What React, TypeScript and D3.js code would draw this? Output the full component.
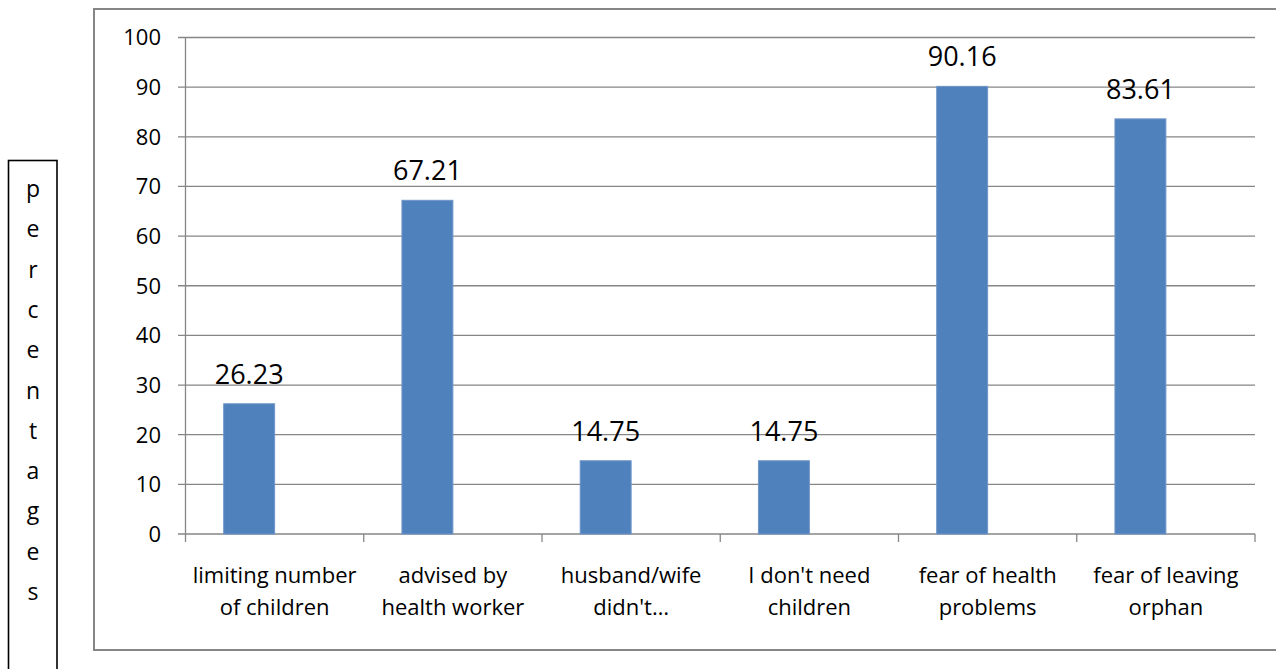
import React from "react";
import * as d3 from "d3";

// Reasons given, share of respondents (%)
const categories: string[][] = [
  ["limiting number", "of children"],
  ["advised by", "health worker"],
  ["husband/wife", "didn't…"],
  ["I don't need", "children"],
  ["fear of health", "problems"],
  ["fear of leaving", "orphan"],
];
const values: number[] = [26.23, 67.21, 14.75, 14.75, 90.16, 83.61];
const yTicks: number[] = [0, 10, 20, 30, 40, 50, 60, 70, 80, 90, 100];
const axisTitle = "percentages";

const W = 1276;
const H = 669;
const FONT = "'Open Sans', 'Noto Sans', sans-serif";
const GRID = "#868686";
const BAR = "#4F81BD";

export default function App() {
  const plotLeft = 185.5;
  const plotRight = 1255;
  const y = d3.scaleLinear().domain([0, 100]).range([534, 37.5]);
  const keys = categories.map((_, i) => String(i));
  const x = d3.scaleBand<string>().domain(keys).range([plotLeft, plotRight]).padding(0);
  // two slots per category (second one unused), 150% gap between clusters
  const slot = d3
    .scaleBand<number>()
    .domain([0, 1])
    .range([0, x.bandwidth()])
    .paddingInner(0)
    .paddingOuter(0.75);

  const y0 = y(0);
  const boundaries = [...keys.map((k) => x(k) as number), plotRight];

  return (
    <svg
      width={W}
      height={H}
      style={{ position: "absolute", left: 0, top: 0, background: "#fff" }}
      fontFamily={FONT}
    >
      {/* chart frame */}
      <rect x={94} y={9} width={1300} height={641} fill="none" stroke={GRID} strokeWidth={2} />

      {/* vertical axis title box */}
      <rect x={8.5} y={160.5} width={48.5} height={560} fill="none" stroke="#000" strokeWidth={1.6} />
      <text fontSize={23} textAnchor="middle" fill="#000">
        {axisTitle.split("").map((ch, i) => (
          <tspan key={i} x={33} y={197 + i * 40.3}>
            {ch}
          </tspan>
        ))}
      </text>

      {/* gridlines and y ticks */}
      {yTicks.map((t) => (
        <g key={t}>
          <line
            x1={178}
            x2={t === 0 ? plotRight : plotRight}
            y1={y(t)}
            y2={y(t)}
            stroke={GRID}
            strokeWidth={1.3}
          />
          <text x={161} y={y(t) + 7.9} fontSize={22} textAnchor="end" fill="#000">
            {t}
          </text>
        </g>
      ))}

      {/* y axis */}
      <line x1={plotLeft} x2={plotLeft} y1={y(100)} y2={y0} stroke={GRID} strokeWidth={1.3} />

      {/* x axis ticks */}
      {boundaries.map((bx, i) => (
        <line key={i} x1={bx} x2={bx} y1={y0} y2={y0 + 8} stroke={GRID} strokeWidth={1.3} />
      ))}

      {/* bars and value labels */}
      {values.map((v, i) => {
        const bx = (x(keys[i]) as number) + (slot(0) as number);
        const bw = slot.bandwidth();
        return (
          <g key={i}>
            <rect
              x={bx}
              y={y(v)}
              width={bw}
              height={y0 - y(v)}
              fill={BAR}
              stroke="#6f95c8"
              strokeWidth={1}
            />
            <text x={bx + bw / 2} y={y(v) - 20} fontSize={27} textAnchor="middle" fill="#000">
              {v.toFixed(2)}
            </text>
          </g>
        );
      })}

      {/* category labels */}
      {categories.map((lines, i) => {
        const cx = (x(keys[i]) as number) + x.bandwidth() / 2;
        return (
          <text key={i} fontSize={22} textAnchor="middle" fill="#000">
            {lines.map((ln, j) => (
              <tspan key={j} x={cx} y={583 + j * 32}>
                {ln}
              </tspan>
            ))}
          </text>
        );
      })}
    </svg>
  );
}
